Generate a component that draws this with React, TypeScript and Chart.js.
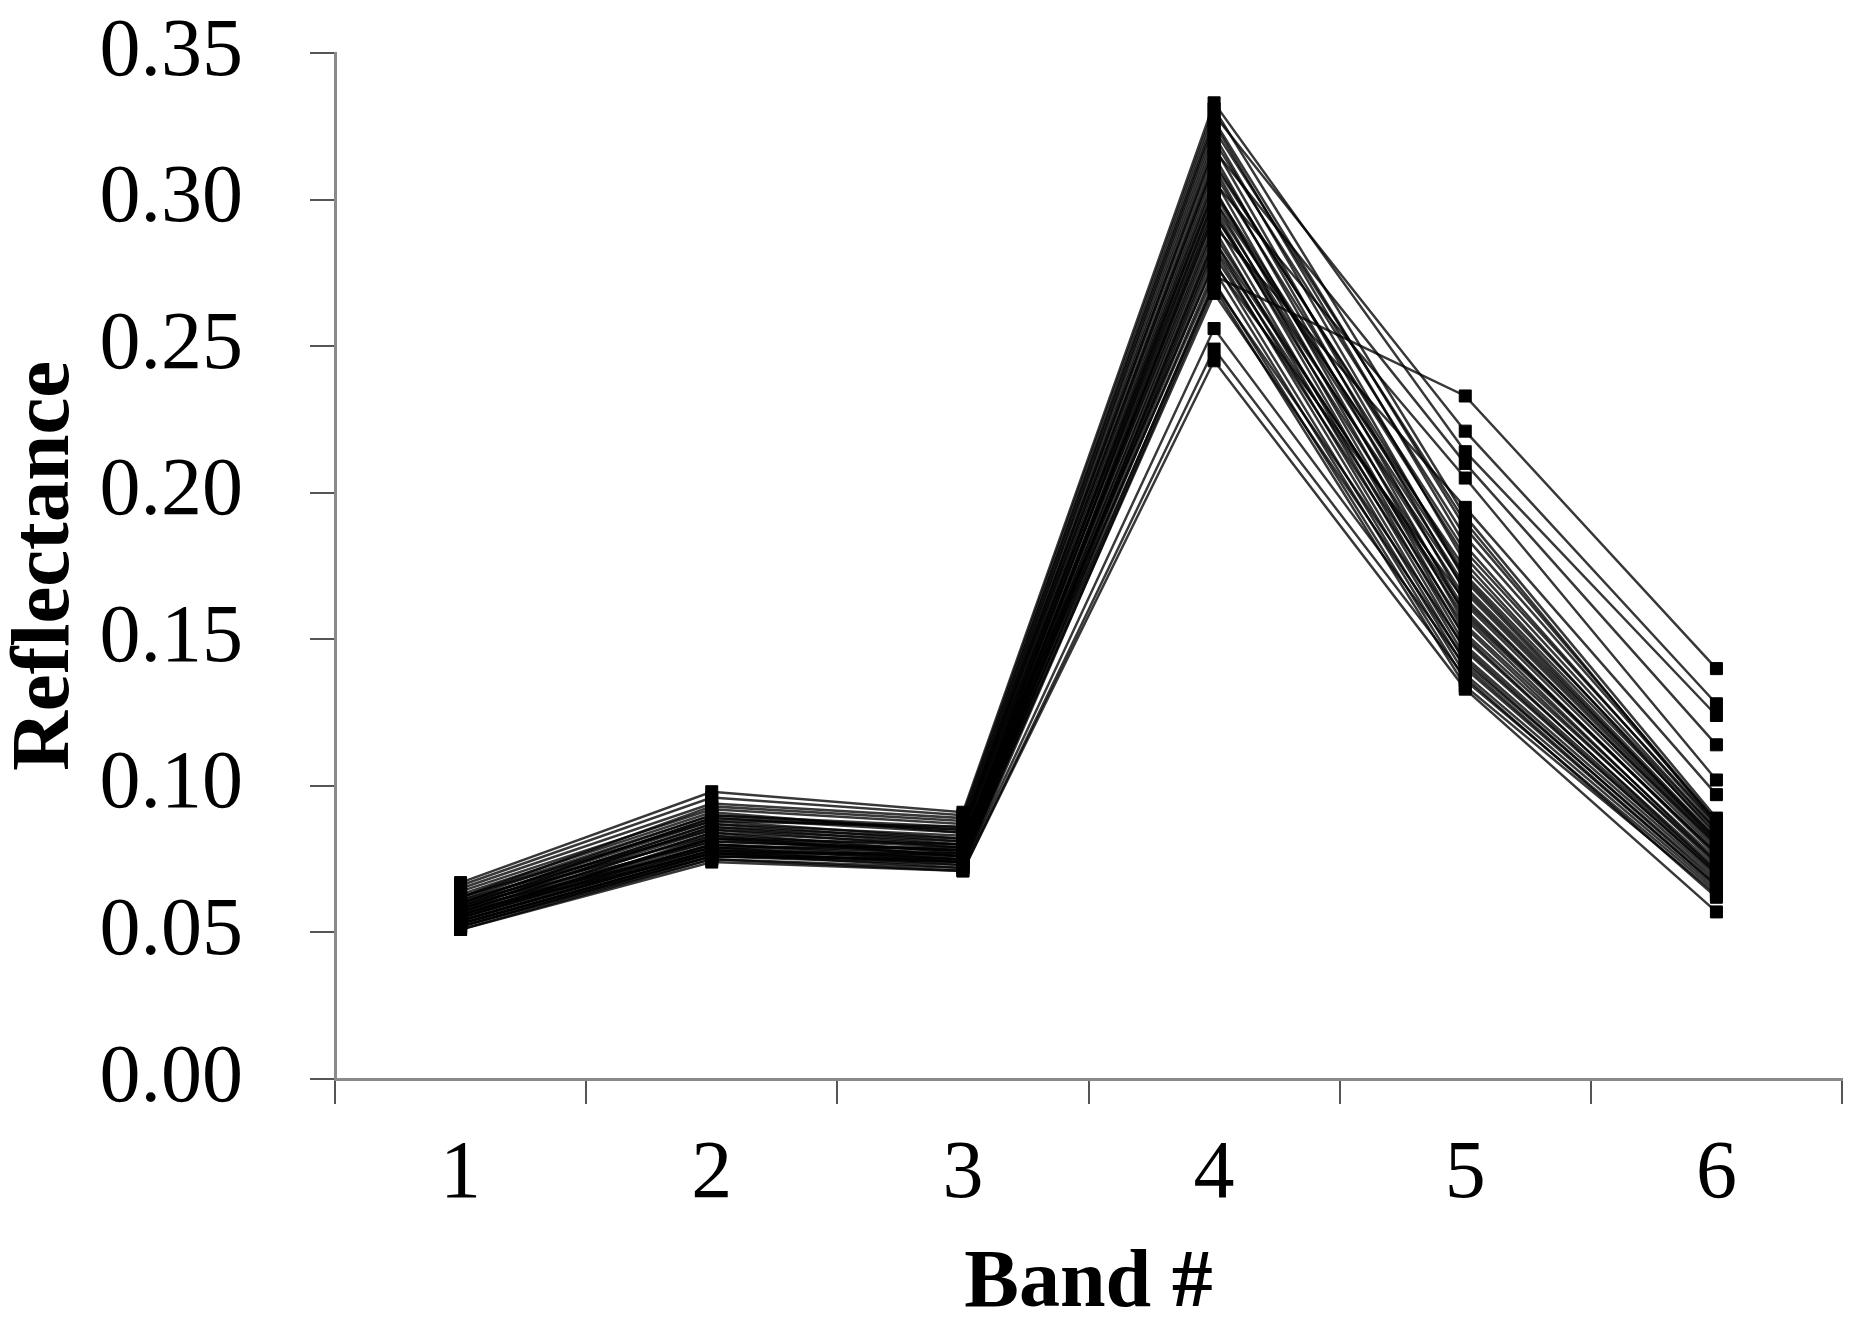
import React, { useEffect, useRef } from "react";
import { Chart, registerables } from "chart.js";

Chart.register(...registerables);

const bandLabels = ["1", "2", "3", "4", "5", "6"];
const yTickValues = [0, 0.05, 0.1, 0.15, 0.2, 0.25, 0.3, 0.35];

// Each array holds one reflectance value per sample (46 samples) for a band
const band1 = [0.067,0.066,0.062,0.065,0.061,0.064,0.060,0.063,0.059,0.062,0.058,0.061,0.057,0.060,0.056,0.059,0.055,0.058,0.054,0.057,0.053,0.056,0.055,0.058,0.054,0.057,0.053,0.056,0.052,0.055,0.054,0.060,0.053,0.058,0.052,0.056,0.051,0.055,0.059,0.062,0.057,0.054,0.053,0.052,0.051,0.060];
const band2 = [0.098,0.096,0.093,0.094,0.090,0.092,0.089,0.091,0.087,0.088,0.086,0.085,0.084,0.083,0.082,0.081,0.080,0.079,0.078,0.077,0.076,0.081,0.083,0.086,0.079,0.084,0.077,0.082,0.076,0.080,0.078,0.088,0.077,0.085,0.076,0.080,0.075,0.079,0.087,0.090,0.082,0.078,0.077,0.075,0.074,0.089];
const band3 = [0.091,0.090,0.088,0.089,0.086,0.087,0.085,0.084,0.083,0.086,0.082,0.081,0.080,0.079,0.080,0.078,0.077,0.079,0.076,0.077,0.075,0.078,0.076,0.080,0.075,0.077,0.074,0.076,0.074,0.075,0.073,0.082,0.074,0.079,0.073,0.076,0.072,0.074,0.081,0.085,0.078,0.075,0.072,0.071,0.071,0.084];
const band4 = [0.333,0.331,0.329,0.327,0.326,0.324,0.322,0.320,0.318,0.317,0.315,0.313,0.311,0.309,0.307,0.306,0.304,0.302,0.300,0.298,0.297,0.295,0.293,0.291,0.290,0.288,0.286,0.284,0.283,0.281,0.279,0.278,0.276,0.274,0.272,0.271,0.270,0.268,0.300,0.312,0.295,0.286,0.256,0.249,0.245,0.303];
const band5 = [0.214,0.192,0.221,0.188,0.182,0.190,0.176,0.185,0.170,0.210,0.166,0.178,0.162,0.172,0.158,0.205,0.155,0.168,0.152,0.164,0.150,0.160,0.148,0.195,0.146,0.157,0.144,0.154,0.142,0.151,0.140,0.163,0.138,0.233,0.136,0.147,0.134,0.143,0.174,0.180,0.167,0.159,0.141,0.137,0.133,0.171];
const band6 = [0.124,0.089,0.128,0.088,0.086,0.087,0.083,0.088,0.081,0.114,0.080,0.085,0.078,0.084,0.077,0.102,0.075,0.082,0.074,0.079,0.072,0.076,0.071,0.097,0.070,0.074,0.069,0.073,0.068,0.071,0.066,0.080,0.065,0.140,0.064,0.070,0.063,0.067,0.085,0.087,0.081,0.077,0.066,0.062,0.057,0.082];

const bands = [band1, band2, band3, band4, band5, band6];

const W = 1866;
const H = 1342;
const AREA_LEFT = 335;
const AREA_RIGHT = 1842;
const AREA_TOP = 53;
const AREA_BOTTOM = 1079;

const FONT = "'Liberation Serif', 'Times New Roman', serif";

export default function App() {
  const ref = useRef<HTMLCanvasElement | null>(null);

  useEffect(() => {
    if (!ref.current) return;
    const datasets = band1.map((_, i) => ({
      label: `Sample ${i + 1}`,
      data: bands.map((b) => b[i]),
      borderColor: "rgba(0,0,0,0.78)",
      borderWidth: 2.5,
      pointStyle: "rect" as const,
      pointRadius: 8.5,
      pointBackgroundColor: "#000",
      pointBorderColor: "#000",
      pointBorderWidth: 1,
      fill: false,
      tension: 0,
    }));

    const chart = new Chart(ref.current, {
      type: "line",
      data: { labels: bandLabels, datasets },
      options: {
        animation: false,
        responsive: false,
        maintainAspectRatio: false,
        layout: { padding: { left: 0, top: 0, right: W - AREA_RIGHT, bottom: 0 } },
        plugins: {
          legend: { display: false },
          tooltip: { enabled: false },
          title: {
            display: true,
            text: " ",
            font: { family: FONT, size: AREA_TOP, lineHeight: 1 },
            padding: 0,
          },
        },
        scales: {
          x: {
            type: "category",
            offset: true,
            grid: {
              display: true,
              offset: true,
              drawOnChartArea: false,
              drawTicks: true,
              tickLength: 25,
              color: "#555",
              lineWidth: 2,
            },
            border: { display: true, color: "#8a8a8a", width: 3 },
            ticks: {
              color: "#000",
              padding: 22,
              font: { family: FONT, size: 82 },
              maxRotation: 0,
            },
            title: {
              display: true,
              text: "Band #",
              color: "#000",
              font: { family: FONT, size: 82, weight: "bold", lineHeight: 1 },
              padding: { top: 0, bottom: 16 },
            },
            afterFit: (scale: any) => {
              scale.height = H - AREA_BOTTOM;
            },
          },
          y: {
            type: "linear",
            min: 0,
            max: 0.35,
            afterBuildTicks: (scale: any) => {
              scale.ticks = yTickValues.map((v) => ({ value: v }));
            },
            grid: {
              display: true,
              drawOnChartArea: false,
              drawTicks: true,
              tickLength: 25,
              color: "#555",
              lineWidth: 2,
            },
            border: { display: true, color: "#8a8a8a", width: 3 },
            ticks: {
              color: "#000",
              padding: 67,
              font: { family: FONT, size: 82 },
              callback: (v: any) => Number(v).toFixed(2),
            },
            title: {
              display: true,
              text: "Reflectance",
              color: "#000",
              font: { family: FONT, size: 83, weight: "bold", lineHeight: 1 },
              padding: { top: 5, bottom: 0 },
            },
            afterFit: (scale: any) => {
              scale.width = AREA_LEFT;
              scale.paddingTop = 0;
              scale.paddingBottom = 0;
            },
          },
        },
      },
    });
    return () => chart.destroy();
  }, []);

  return (
    <div style={{ position: "absolute", left: 0, top: 0, width: W, height: H, background: "#fff" }}>
      <canvas ref={ref} width={W} height={H} style={{ display: "block", width: W, height: H }} />
    </div>
  );
}
